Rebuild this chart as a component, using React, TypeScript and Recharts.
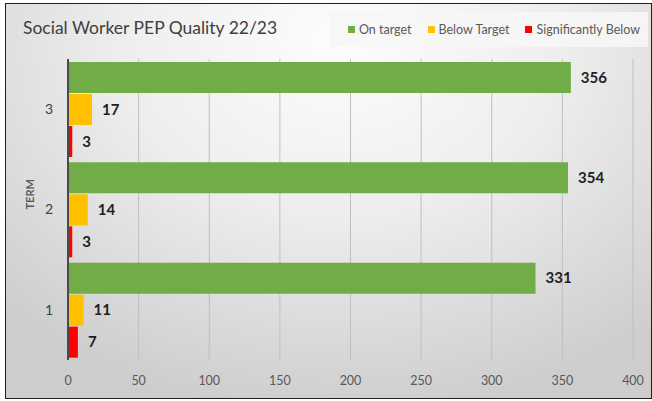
import React from 'react';
import {
  BarChart,
  Bar,
  XAxis,
  YAxis,
  CartesianGrid,
  LabelList
} from 'recharts';

// terms listed top to bottom as they appear on the chart
const terms = ['3', '2', '1'];
const onTarget = [356, 354, 331];
const belowTarget = [17, 14, 11];
const significantlyBelow = [3, 3, 7];
const xTicks = [0, 50, 100, 150, 200, 250, 300, 350, 400];

const series = [
  { key: 'onTarget', name: 'On target', color: '#70AD47' },
  { key: 'belowTarget', name: 'Below Target', color: '#FFC000' },
  { key: 'significantlyBelow', name: 'Significantly Below', color: '#FF0000' }
];

const data = terms.map((term, i) => ({
  term,
  onTarget: onTarget[i],
  belowTarget: belowTarget[i],
  significantlyBelow: significantlyBelow[i]
}));

const FONT = 'Lato, "Open Sans", sans-serif';

const App: React.FC = () => {
  return (
    <div
      style={{
        position: 'absolute',
        left: 0,
        top: 0,
        width: 652,
        height: 401,
        background: '#ffffff',
        overflow: 'hidden'
      }}
    >
      <div
        style={{
          position: 'absolute',
          left: 5,
          top: 3,
          width: 645,
          height: 394,
          border: '1.5px solid #1f1f1f',
          background:
            'radial-gradient(ellipse 75% 95% at 52% 10%, #fdfdfd 0%, #eeeeee 45%, #d9d9d9 80%, #cdcdcd 100%)'
        }}
      />
      <div
        style={{
          position: 'absolute',
          left: 23,
          top: 17,
          fontFamily: FONT,
          fontSize: 17.5,
          color: '#404040'
        }}
      >
        Social Worker PEP Quality 22/23
      </div>
      <div
        style={{
          position: 'absolute',
          left: 330,
          top: 12,
          width: 318,
          height: 35,
          background: 'rgba(246,246,246,0.9)',
          display: 'flex',
          alignItems: 'center',
          justifyContent: 'flex-end',
          paddingRight: 8,
          boxSizing: 'border-box',
          whiteSpace: 'nowrap',
          fontFamily: FONT,
          fontSize: 12.5,
          color: '#595959'
        }}
      >
        {series.map((s) => (
          <span
            key={s.key}
            style={{ display: 'flex', alignItems: 'center', marginLeft: 16, flexShrink: 0 }}
          >
            <span
              style={{
                display: 'inline-block',
                width: 7,
                height: 7,
                background: s.color,
                marginRight: 4
              }}
            />
            {s.name}
          </span>
        ))}
      </div>
      <div style={{ position: 'absolute', left: 0, top: 0 }}>
        <BarChart
          width={652}
          height={401}
          data={data}
          layout="vertical"
          margin={{ top: 59, right: 19, bottom: 11, left: 0 }}
          barSize={31}
          barGap={1}
        >
          <CartesianGrid horizontal={false} stroke="#bfbfbf" strokeWidth={1} />
          <XAxis
            type="number"
            domain={[0, 400]}
            ticks={xTicks}
            axisLine={false}
            tickLine={false}
            tickMargin={10}
            height={30}
            tick={{ fill: '#595959', fontSize: 12.5, fontFamily: FONT }}
          />
          <YAxis
            type="category"
            dataKey="term"
            width={68}
            tickLine={false}
            tickSize={0}
            tickMargin={15}
            axisLine={{ stroke: '#4a4a4a', strokeWidth: 2 }}
            tick={{ fill: '#404040', fontSize: 14, fontFamily: FONT }}
            label={{
              value: 'TERM',
              angle: -90,
              position: 'insideLeft',
              offset: 30,
              fill: '#595959',
              fontSize: 11,
              fontWeight: 'bold',
              fontFamily: FONT
            }}
          />
          {series.map((s) => (
            <Bar key={s.key} dataKey={s.key} name={s.name} fill={s.color} isAnimationActive={false}>
              <LabelList
                dataKey={s.key}
                position="right"
                offset={10}
                fill="#1f1f1f"
                fontSize={15}
                fontWeight="bold"
                fontFamily={FONT}
              />
            </Bar>
          ))}
        </BarChart>
      </div>
    </div>
  );
};

export default App;
